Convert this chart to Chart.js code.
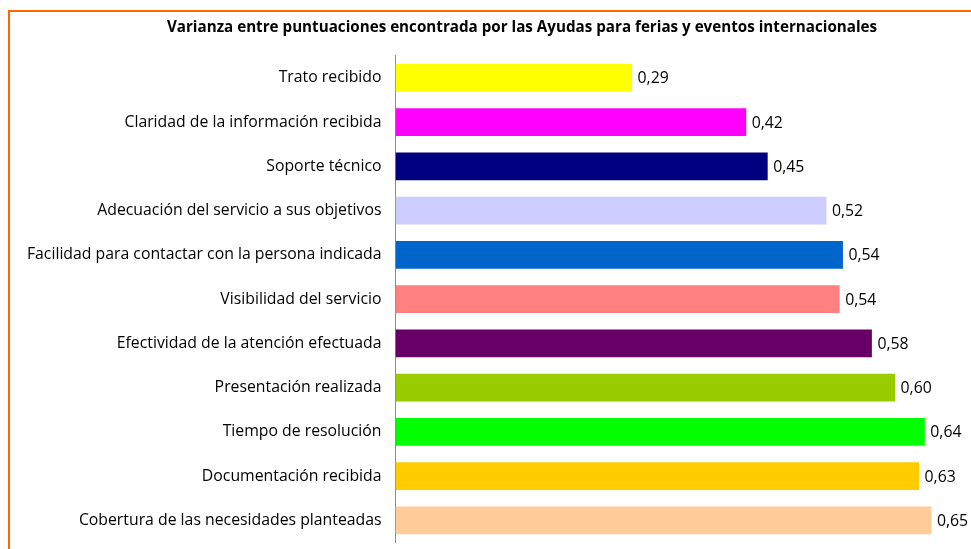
<!DOCTYPE html>
<html>
<head>
<meta charset="utf-8">
<script src="https://cdn.jsdelivr.net/npm/chart.js@4.4.1/dist/chart.umd.min.js"></script>
<style>
  html, body { margin: 0; padding: 0; background: #ffffff; overflow: hidden; width: 971px; height: 549px; }
  #frame { position: absolute; left: 8px; top: 9.5px; width: 1026px; height: 570px; border: 2px solid #FF6600; background: #fff; }
  canvas { display: block; }
</style>
</head>
<body>
<div id="frame"><canvas id="c" width="1026" height="554"></canvas></div>
<script>
const titleText = 'Varianza entre puntuaciones encontrada por las Ayudas para ferias y eventos internacionales';
const categories = [
  'Trato recibido',
  'Claridad de la información recibida',
  'Soporte técnico',
  'Adecuación del servicio a sus objetivos',
  'Facilidad para contactar con la persona indicada',
  'Visibilidad del servicio',
  'Efectividad de la atención efectuada',
  'Presentación realizada',
  'Tiempo de resolución',
  'Documentación recibida',
  'Cobertura de las necesidades planteadas'
];
const values = [0.286, 0.424, 0.450, 0.521, 0.541, 0.537, 0.576, 0.604, 0.640, 0.633, 0.648];
const barColors = ['#FFFF00', '#FF00FF', '#000080', '#CCCCFF', '#0066CC', '#FF8080', '#660066', '#99CC00', '#00FF00', '#FFCC00', '#FFCC99'];
const xMin = 0;
const xMax = 0.772;

const FONT = '"Open Sans", Lato, sans-serif';

const valueLabels = {
  id: 'valueLabels',
  afterDatasetsDraw(chart) {
    const ctx = chart.ctx;
    const meta = chart.getDatasetMeta(0);
    ctx.save();
    ctx.font = '15.8px ' + FONT;
    ctx.fillStyle = '#000000';
    ctx.textAlign = 'left';
    ctx.textBaseline = 'middle';
    meta.data.forEach((bar, i) => {
      const txt = values[i].toFixed(2).replace('.', ',');
      ctx.fillText(txt, bar.x + 5.5, bar.y + 1);
    });
    ctx.restore();
  }
};

new Chart(document.getElementById('c'), {
  type: 'bar',
  data: {
    labels: categories,
    datasets: [{
      data: values,
      backgroundColor: barColors,
      borderWidth: 0,
      categoryPercentage: 1.0,
      barPercentage: 0.631
    }]
  },
  options: {
    indexAxis: 'y',
    responsive: false,
    animation: false,
    layout: { padding: { left: 0, right: 2, top: 0, bottom: 0 } },
    plugins: {
      legend: { display: false },
      tooltip: { enabled: false },
      title: {
        display: true,
        text: titleText,
        color: '#000000',
        font: { family: FONT, size: 15.2, weight: 'bold' },
        padding: { top: 6.5, bottom: 19 }
      }
    },
    scales: {
      x: { display: false, min: xMin, max: xMax },
      y: {
        grid: { display: false, drawTicks: false },
        border: { display: true, color: '#8C8C8C', width: 1 },
        ticks: { color: '#000000', font: { family: FONT, size: 15.8 }, padding: 14 },
        afterFit: (s) => { s.width = 385.5; }
      }
    }
  },
  plugins: [valueLabels]
});
</script>
</body>
</html>
